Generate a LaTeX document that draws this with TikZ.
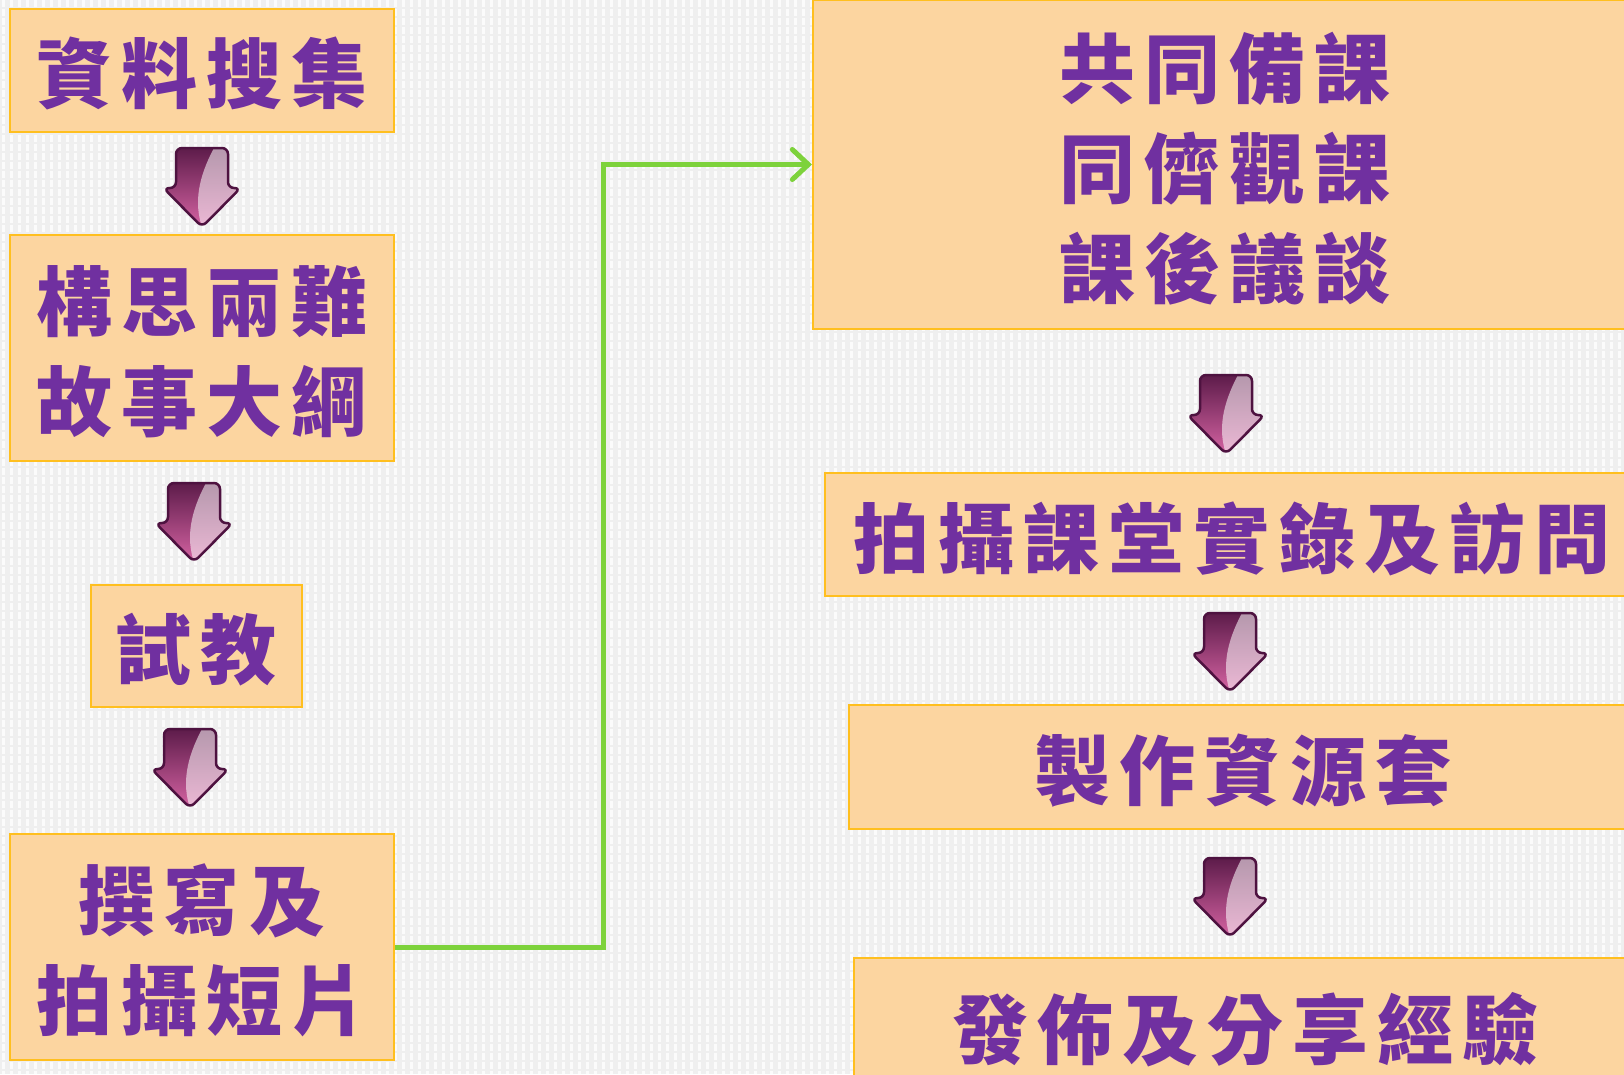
\documentclass[tikz,border=0pt]{standalone}
\usepackage{fontspec}
\newfontfamily\cjk{Noto Sans CJK TC}[LetterSpace=12]
\usepackage{tikz}
\usetikzlibrary{positioning}
\usetikzlibrary{arrows.meta}

\definecolor{bgbase}{HTML}{EFEFEF}
\definecolor{boxfill}{HTML}{FCD5A0}
\definecolor{boxline}{HTML}{FFBF1F}
\definecolor{textpurple}{HTML}{7030A0}
\definecolor{linkgreen}{HTML}{7DD23B}
\definecolor{arrowdark}{HTML}{5A1A48}
\definecolor{arrowmid}{HTML}{B53882}
\definecolor{arrowpink}{HTML}{DA66A6}
\definecolor{arrowedge}{HTML}{4E1240}

\begin{document}
\begin{tikzpicture}[x=1pt, y=-1pt]
% Style definitions
\tikzset{
    stepbox/.style={draw=boxline, line width=2pt, fill=boxfill, align=center,
                    inner sep=0pt, text=textpurple, text depth=0pt,
                    font=\cjk\bfseries\fontsize{76}{100}\selectfont},
    link/.style={draw=linkgreen, line width=5pt,
                 -{Straight Barb[length=16pt, width=30pt, line cap=round]}},
    downarrow/.pic={
        \begin{scope}
        \clip[rounded corners=6pt] (0,79) -- (-38.5,40) -- (-26,40) -- (-26,0)
            -- (26,0) -- (26,40) -- (38.5,40) -- cycle;
        \shade[top color=arrowdark, middle color=arrowmid, bottom color=arrowpink]
            (-40,-2) rectangle (40,82);
        \fill[white, opacity=.55] (12,0) .. controls (-4,30) and (-8,55) .. (0,79)
            -- (40,40) -- (40,0) -- cycle;
        \end{scope}
        \draw[arrowedge, line width=2.5pt, line join=round, rounded corners=6pt]
            (0,79) -- (-38.5,40) -- (-26,40) -- (-26,0)
            -- (26,0) -- (26,40) -- (38.5,40) -- cycle;
    }
}

% Canvas and background texture
\path[use as bounding box] (0,0) rectangle (1624,1074);
\clip (0,0) rectangle (1624,1074);
\fill[bgbase] (0,0) rectangle (1624,1074);
\foreach \x in {3,11,...,1624}
    \draw[white, line width=3pt, dash pattern=on 7pt off 2pt, opacity=.8] (\x,0) -- (\x,1074);

% Left column
\node[stepbox, minimum width=384pt, minimum height=123pt] (collect) at (202,70) {資料搜集};
\node[stepbox, minimum width=384pt, minimum height=226pt] (dilemma) at (202,348) {構思兩難\\故事大綱};
\node[stepbox, minimum width=211pt, minimum height=122pt] (trial) at (196.5,646) {試教};
\node[stepbox, minimum width=384pt, minimum height=226pt] (shoot) at (202,947) {撰寫及\\拍攝短片};

% Right column
\node[stepbox, minimum width=824pt, minimum height=329pt] (lesson) at (1225,164.5) {共同備課\\同儕觀課\\課後議談};
\node[stepbox, minimum width=814pt, minimum height=123pt] (record) at (1232,534.5) {拍攝課堂實錄及訪問};
\node[stepbox, minimum width=788pt, minimum height=124pt] (kit) at (1243,767) {製作資源套};
\node[stepbox, minimum width=783pt, minimum height=134pt] (share) at (1245.5,1025) {發佈及分享經驗};

% Block arrows
\pic at (202,148) {downarrow};
\pic at (194,483) {downarrow};
\pic at (190,729) {downarrow};
\pic at (1226,375) {downarrow};
\pic at (1230,613) {downarrow};
\pic at (1230,858) {downarrow};

% Green connector
\coordinate (turn) at (603,0);
\draw[link] (shoot.east) -- (shoot.east -| turn) |- (lesson.west);

\end{tikzpicture}
\end{document}
